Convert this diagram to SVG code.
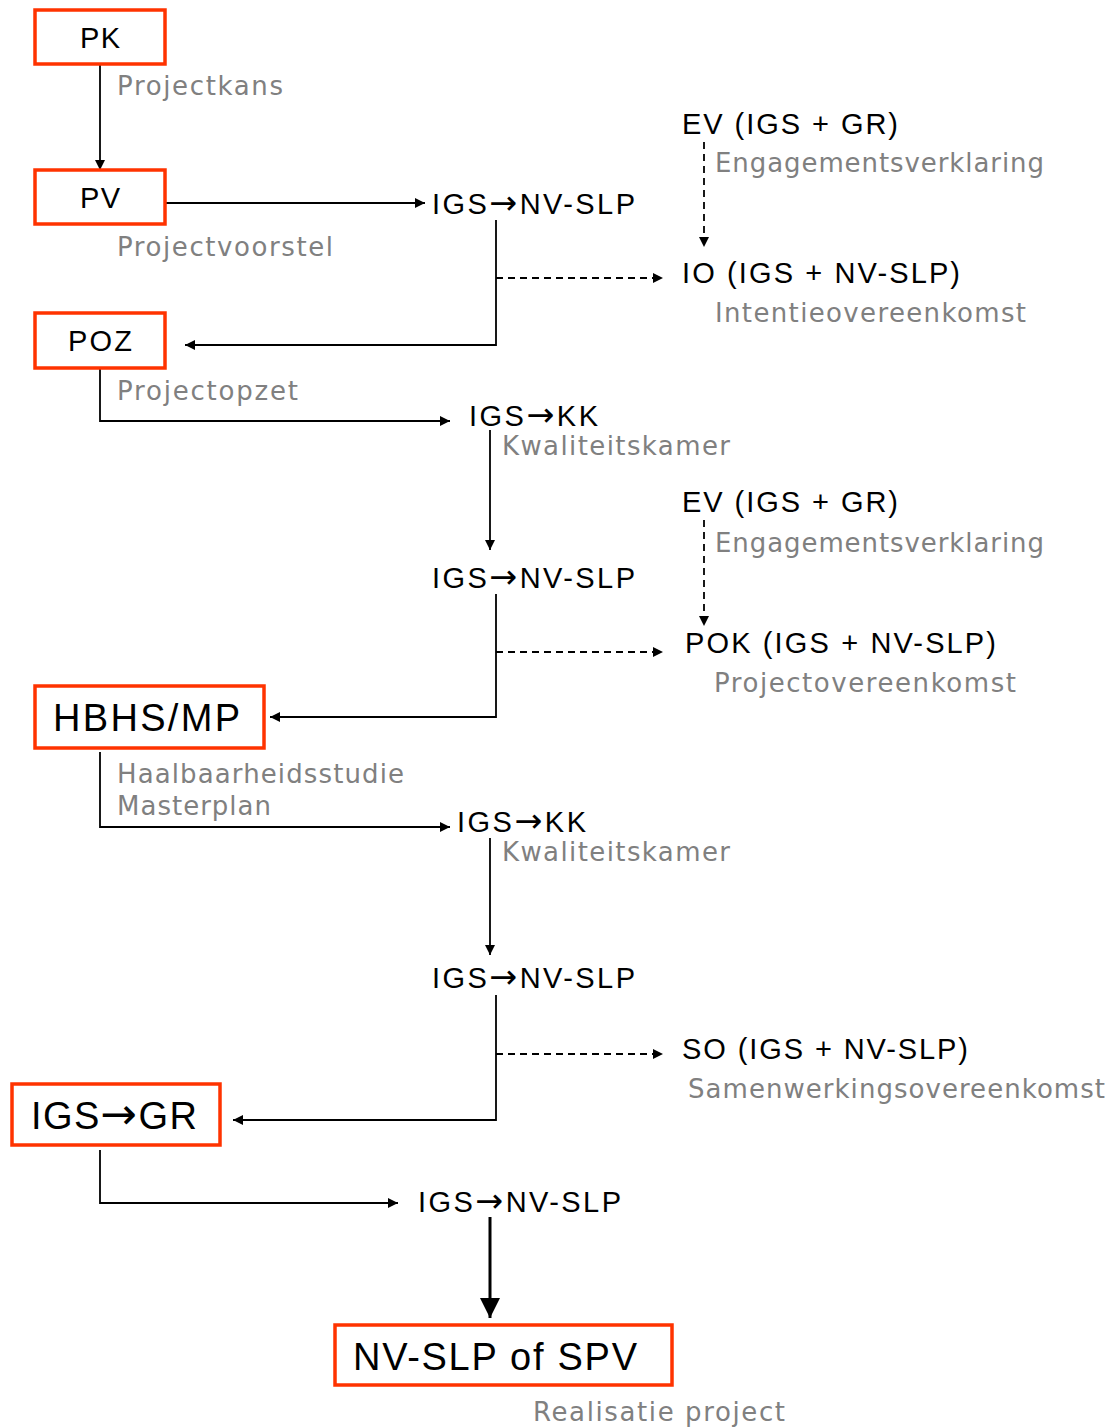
<svg xmlns="http://www.w3.org/2000/svg" width="1115" height="1427" viewBox="0 0 1115 1427">
<style>
.box{fill:#fff;stroke:#FF3300;stroke-width:3.5}
.t{font-family:"Liberation Sans",Arial,sans-serif;font-size:29px;fill:#000}
.tb{font-family:"Liberation Sans",Arial,sans-serif;font-size:38px;fill:#000}
.ar{font-family:"DejaVu Sans",sans-serif;font-size:1.15em}
.g{font-family:"DejaVu Sans",Verdana,sans-serif;font-size:26px;fill:#808080}
.c{fill:none;stroke:#000;stroke-width:1.8}
.d{fill:none;stroke:#000;stroke-width:1.8;stroke-dasharray:7 5}
.thick{fill:none;stroke:#000;stroke-width:3}
</style>
<defs>
<marker id="a" viewBox="0 0 10 10" refX="10" refY="5" markerWidth="12" markerHeight="10" markerUnits="userSpaceOnUse" orient="auto"><path d="M0,0 L10,5 L0,10 z" fill="#000"/></marker>
<marker id="A" viewBox="0 0 10 10" refX="10" refY="5" markerWidth="20" markerHeight="22" markerUnits="userSpaceOnUse" orient="auto"><path d="M0,0 L10,5 L0,10 z" fill="#000"/></marker>
</defs>
<rect width="1115" height="1427" fill="#fff"/>
<g id="connectors">
<path class="c" d="M100,64 V170" marker-end="url(#a)"/>
<path class="c" d="M165,203 H425" marker-end="url(#a)"/>
<path class="c" d="M496,220 V345 H185" marker-end="url(#a)"/>
<path class="d" d="M496,278 H663" marker-end="url(#a)"/>
<path class="d" d="M704,142 V247" marker-end="url(#a)"/>
<path class="c" d="M100,368 V421 H450" marker-end="url(#a)"/>
<path class="c" d="M490,430 V550" marker-end="url(#a)"/>
<path class="c" d="M496,594 V717 H270" marker-end="url(#a)"/>
<path class="d" d="M496,652 H663" marker-end="url(#a)"/>
<path class="d" d="M704,520 V626" marker-end="url(#a)"/>
<path class="c" d="M100,752 V827 H450" marker-end="url(#a)"/>
<path class="c" d="M490,838 V955" marker-end="url(#a)"/>
<path class="c" d="M496,995 V1120 H233" marker-end="url(#a)"/>
<path class="d" d="M496,1054 H663" marker-end="url(#a)"/>
<path class="c" d="M100,1150 V1203 H398" marker-end="url(#a)"/>
<path class="thick" d="M490,1217 V1318" marker-end="url(#A)"/>
</g>
<g id="pk"><rect class="box" x="35" y="10" width="130" height="54"/><text class="t" x="80" y="48" textLength="40" lengthAdjust="spacing">PK</text></g>
<g id="pk-label"><text class="g" x="117" y="95" textLength="166" lengthAdjust="spacing">Projectkans</text></g>
<g id="pv"><rect class="box" x="35" y="170" width="130" height="54"/><text class="t" x="80" y="208" textLength="40" lengthAdjust="spacing">PV</text></g>
<g id="pv-label"><text class="g" x="117" y="256" textLength="216" lengthAdjust="spacing">Projectvoorstel</text></g>
<g id="igs1"><text class="t" x="432" y="214" textLength="203" lengthAdjust="spacing">IGS<tspan class="ar">→</tspan>NV-SLP</text></g>
<g id="ev1"><text class="t" x="682" y="134" textLength="216" lengthAdjust="spacing">EV (IGS + GR)</text><text class="g" x="715" y="172" textLength="329" lengthAdjust="spacing">Engagementsverklaring</text></g>
<g id="io"><text class="t" x="682" y="283" textLength="278" lengthAdjust="spacing">IO (IGS + NV-SLP)</text><text class="g" x="715" y="322" textLength="311" lengthAdjust="spacing">Intentieovereenkomst</text></g>
<g id="poz"><rect class="box" x="35" y="313" width="130" height="55"/><text class="t" x="68" y="351" textLength="64" lengthAdjust="spacing">POZ</text></g>
<g id="poz-label"><text class="g" x="117" y="400" textLength="181" lengthAdjust="spacing">Projectopzet</text></g>
<g id="kk1"><text class="t" x="469" y="426" textLength="129" lengthAdjust="spacing">IGS<tspan class="ar">→</tspan>KK</text><text class="g" x="502" y="455" textLength="228" lengthAdjust="spacing">Kwaliteitskamer</text></g>
<g id="igs2"><text class="t" x="432" y="588" textLength="203" lengthAdjust="spacing">IGS<tspan class="ar">→</tspan>NV-SLP</text></g>
<g id="ev2"><text class="t" x="682" y="512" textLength="216" lengthAdjust="spacing">EV (IGS + GR)</text><text class="g" x="715" y="552" textLength="329" lengthAdjust="spacing">Engagementsverklaring</text></g>
<g id="pok"><text class="t" x="685" y="653" textLength="311" lengthAdjust="spacing">POK (IGS + NV-SLP)</text><text class="g" x="714" y="692" textLength="302" lengthAdjust="spacing">Projectovereenkomst</text></g>
<g id="hbhs"><rect class="box" x="35" y="686" width="229" height="62"/><text class="tb" x="53" y="731" textLength="187" lengthAdjust="spacing">HBHS/MP</text></g>
<g id="hbhs-label"><text class="g" x="117" y="783" textLength="287" lengthAdjust="spacing">Haalbaarheidsstudie</text><text class="g" x="117" y="815" textLength="154" lengthAdjust="spacing">Masterplan</text></g>
<g id="kk2"><text class="t" x="457" y="832" textLength="129" lengthAdjust="spacing">IGS<tspan class="ar">→</tspan>KK</text><text class="g" x="502" y="861" textLength="228" lengthAdjust="spacing">Kwaliteitskamer</text></g>
<g id="igs3"><text class="t" x="432" y="988" textLength="203" lengthAdjust="spacing">IGS<tspan class="ar">→</tspan>NV-SLP</text></g>
<g id="so"><text class="t" x="682" y="1059" textLength="286" lengthAdjust="spacing">SO (IGS + NV-SLP)</text><text class="g" x="688" y="1098" textLength="417" lengthAdjust="spacing">Samenwerkingsovereenkomst</text></g>
<g id="gr"><rect class="box" x="12" y="1084" width="208" height="61"/><text class="tb" x="31" y="1129" textLength="166" lengthAdjust="spacing">IGS<tspan class="ar">→</tspan>GR</text></g>
<g id="igs4"><text class="t" x="418" y="1212" textLength="203" lengthAdjust="spacing">IGS<tspan class="ar">→</tspan>NV-SLP</text></g>
<g id="spv"><rect class="box" x="335" y="1325" width="337" height="60"/><text class="tb" x="353" y="1370" textLength="284" lengthAdjust="spacing">NV-SLP of SPV</text></g>
<g id="spv-label"><text class="g" x="533" y="1421" textLength="252" lengthAdjust="spacing">Realisatie project</text></g>
</svg>
